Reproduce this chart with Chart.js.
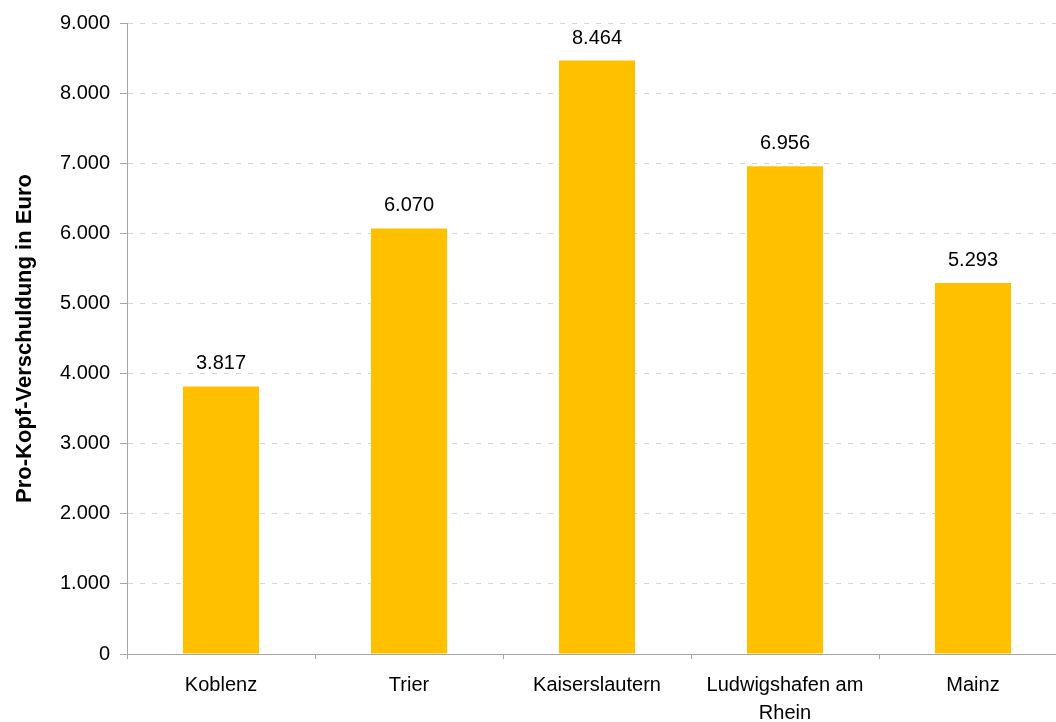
<!DOCTYPE html>
<html>
<head>
<meta charset="utf-8">
<script src="https://cdn.jsdelivr.net/npm/chart.js@4.4.0/dist/chart.umd.min.js"></script>
<style>
  html, body { margin: 0; padding: 0; background: #fff; overflow: hidden; }
  #wrap { width: 1068px; height: 722px; }
</style>
</head>
<body>
<div id="wrap"><canvas id="chart" width="1068" height="722"></canvas></div>
<script>
// Pro-Kopf-Verschuldung der kreisfreien Städte
const cities = ['Koblenz', 'Trier', 'Kaiserslautern', ['Ludwigshafen am', 'Rhein'], 'Mainz'];
const debtPerHead = [3817, 6070, 8464, 6956, 5293];
const yTicks = [0, 1000, 2000, 3000, 4000, 5000, 6000, 7000, 8000, 9000];

const FONT = '"Liberation Sans", Arial, sans-serif';

// 8464 -> "8.464"
function fmt(v) {
    return String(v).replace(/\B(?=(\d{3})+(?!\d))/g, '.');
}

// Werte über den Balken
const valueLabels = {
    id: 'valueLabels',
    afterDatasetsDraw(chart) {
        const ctx = chart.ctx;
        const meta = chart.getDatasetMeta(0);
        ctx.save();
        ctx.font = '20px ' + FONT;
        ctx.fillStyle = '#000';
        ctx.textAlign = 'center';
        ctx.textBaseline = 'alphabetic';
        meta.data.forEach((bar, i) => {
            ctx.fillText(fmt(chart.data.datasets[0].data[i]), bar.x, bar.y - 17);
        });
        ctx.restore();
    }
};

new Chart(document.getElementById('chart'), {
    type: 'bar',
    data: {
        labels: cities,
        datasets: [{
            data: debtPerHead,
            backgroundColor: '#FFC000',
            borderWidth: 0,
            categoryPercentage: 1,
            barPercentage: 0.405
        }]
    },
    options: {
        responsive: false,
        animation: false,
        layout: { padding: { top: 23, right: 1, left: 0, bottom: 0 } },
        plugins: {
            legend: { display: false },
            tooltip: { enabled: false }
        },
        scales: {
            x: {
                afterFit(scale) { scale.height = 68; },
                grid: {
                    offset: true,
                    drawOnChartArea: false,
                    drawTicks: true,
                    tickLength: 5,
                    tickColor: '#a6a6a6'
                },
                border: { color: '#a6a6a6', width: 1 },
                ticks: {
                    color: '#000',
                    padding: 12,
                    maxRotation: 0,
                    autoSkip: false,
                    font: { family: FONT, size: 20, lineHeight: 1.4 }
                }
            },
            y: {
                min: 0,
                max: 9000,
                afterFit(scale) { scale.width = 127; },
                afterBuildTicks(scale) {
                    scale.ticks = yTicks.map(v => ({ value: v }));
                },
                grid: {
                    color: '#d4d4d4',
                    lineWidth: 1,
                    drawTicks: true,
                    tickLength: 7,
                    tickColor: '#a6a6a6',
                    tickBorderDash: []
                },
                border: { color: '#a6a6a6', width: 1, dash: [5, 7] },
                ticks: {
                    color: '#000',
                    padding: 10,
                    font: { family: FONT, size: 20 },
                    callback: v => fmt(v)
                },
                title: {
                    display: true,
                    text: 'Pro-Kopf-Verschuldung in Euro',
                    color: '#000',
                    padding: { top: 12, bottom: 0 },
                    font: { family: FONT, size: 22, weight: 'bold' }
                }
            }
        }
    },
    plugins: [valueLabels]
});
</script>
</body>
</html>
